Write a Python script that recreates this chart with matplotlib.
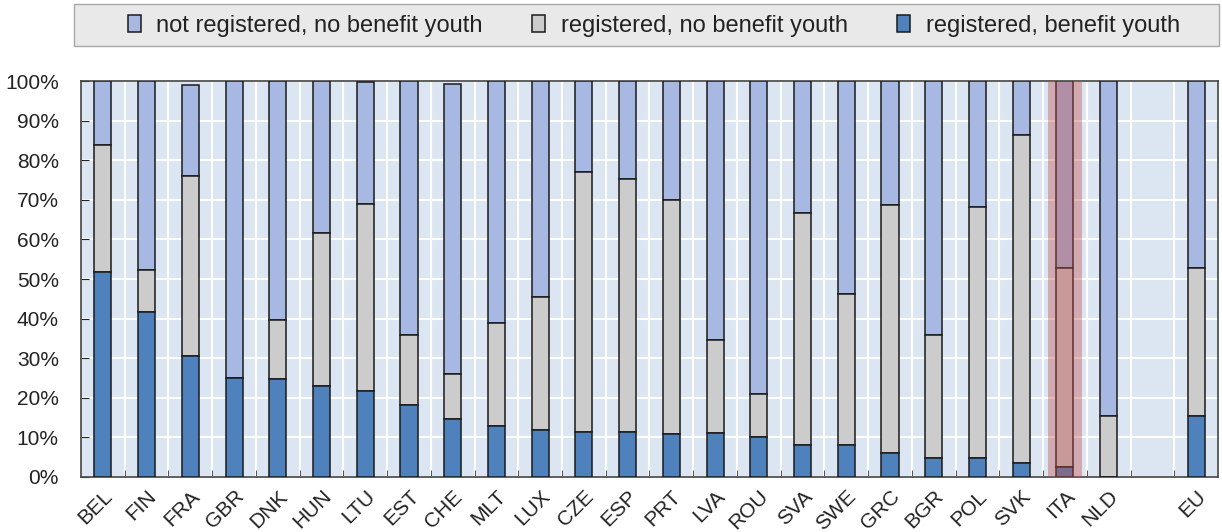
import numpy as np
import matplotlib.pyplot as plt
from matplotlib.patches import Rectangle
from matplotlib.ticker import PercentFormatter

plt.rcParams['font.family'] = ['Liberation Sans', 'DejaVu Sans']

countries = ['BEL', 'FIN', 'FRA', 'GBR', 'DNK', 'HUN', 'LTU', 'EST', 'CHE', 'MLT', 'LUX', 'CZE',
             'ESP', 'PRT', 'LVA', 'ROU', 'SVA', 'SWE', 'GRC', 'BGR', 'POL', 'SVK', 'ITA', 'NLD', '', 'EU']
reg_benefit = [51.7, 41.6, 30.5, 25.1, 24.7, 23.0, 21.7, 18.1, 14.6, 13.0, 11.9, 11.4,
               11.4, 10.9, 11.0, 10.2, 8.1, 8.1, 6.0, 4.9, 4.9, 3.5, 2.6, 0.0, 0.0, 15.5]
reg_no_benefit = [32.1, 10.8, 45.6, 0.0, 14.9, 38.5, 47.3, 17.8, 11.3, 25.8, 33.5, 65.5,
                  63.9, 59.0, 23.6, 10.8, 58.5, 38.1, 62.6, 31.0, 63.4, 82.9, 50.3, 15.5, 0.0, 37.4]
not_reg_no_benefit = [16.2, 47.6, 22.8, 74.9, 60.4, 38.5, 30.7, 64.1, 73.3, 61.2, 54.6, 23.1,
                      24.7, 30.1, 65.4, 79.0, 33.4, 53.8, 31.4, 64.1, 31.7, 13.6, 47.1, 84.5, 0.0, 47.1]
highlight = 'ITA'

c_dark = '#4F81BD'
c_grey = '#CCCCCC'
c_light = '#A7B9E3'

fig = plt.figure(figsize=(12.22, 5.32), dpi=100)
ax = fig.add_axes([0.0663, 0.1034, 0.9304, 0.7443])
ax.set_facecolor('#DCE6F2')

x = np.arange(len(countries))
b1 = np.array(reg_benefit)
b2 = np.array(reg_no_benefit)
b3 = np.array(not_reg_no_benefit)
mask = np.array([c != '' for c in countries])
w = 0.39

ax.bar(x[mask], b3[mask], w, bottom=(b1 + b2)[mask], color=c_light, edgecolor='#1a1a1a',
       linewidth=1.1, label='not registered, no benefit youth', zorder=3)
ax.bar(x[mask], b2[mask], w, bottom=b1[mask], color=c_grey, edgecolor='#1a1a1a',
       linewidth=1.1, label='registered, no benefit youth', zorder=3)
ax.bar(x[mask], b1[mask], w, color=c_dark, edgecolor='#1a1a1a',
       linewidth=1.1, label='registered, benefit youth', zorder=3)

hi = countries.index(highlight)
ax.axvspan(hi - 0.39, hi + 0.39, color='#C0504D', alpha=0.4, lw=0, zorder=4)

ax.set_xlim(-0.5, len(countries) - 0.5)
ax.set_ylim(0, 100)
ax.set_yticks(np.arange(0, 101, 10))
ax.yaxis.set_major_formatter(PercentFormatter(decimals=0))
ax.set_xticks(x[mask])
ax.set_xticklabels([c for c in countries if c], rotation=45, ha='right', va='top',
                   rotation_mode='anchor')
ax.set_xticks(np.arange(0.5, len(countries) - 1, 1), minor=True)
ax.tick_params(axis='x', which='major', length=0, pad=7, labelsize=15, colors='#222222')
ax.tick_params(axis='x', which='minor', length=5, direction='in', color='#333333')
ax.tick_params(axis='y', length=6, direction='in', labelsize=15, colors='#222222', pad=16)
ax.grid(axis='y', color='white', lw=1.5, zorder=1)
ax.grid(axis='x', which='minor', color='white', lw=1.5, zorder=1)
for s in ax.spines.values():
    s.set_color('#444444')
    s.set_linewidth(1.2)

# legend box spanning the width, entries laid out from the left
fig.patches.append(Rectangle((74 / 1222, 1 - 46 / 532), 1145 / 1222, 42 / 532,
                             transform=fig.transFigure, facecolor='#E9E9E9',
                             edgecolor='#A8A8A8', lw=1.0))
fig.legend(loc='center left', bbox_to_anchor=(128 / 1222, 1 - 26 / 532),
           ncol=3, fontsize=17, frameon=False, labelcolor='#222222',
           handlelength=0.55, handleheight=0.75, handletextpad=0.65,
           borderaxespad=0, borderpad=0, columnspacing=2.1)

fig.savefig('out.png', dpi=100)
